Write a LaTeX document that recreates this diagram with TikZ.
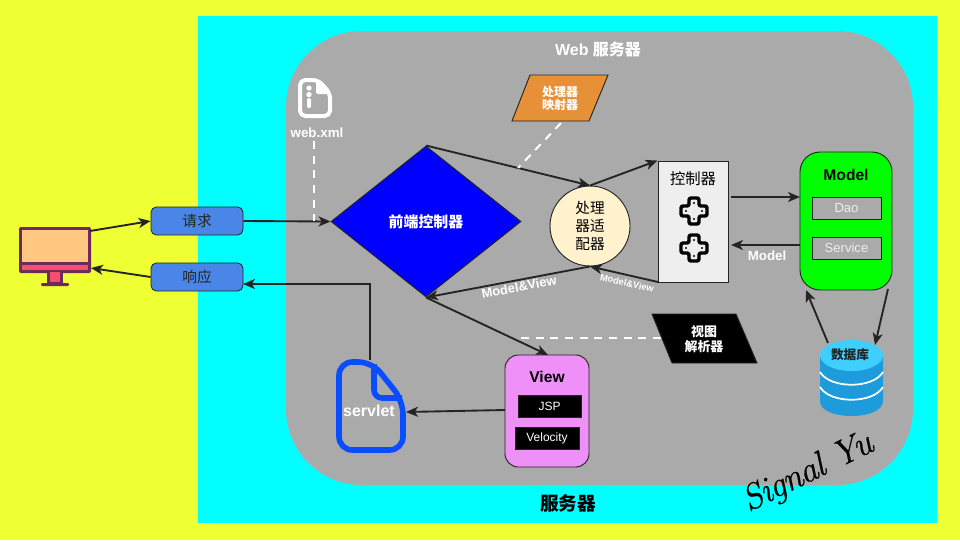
\documentclass[tikz,border=0pt]{standalone}
\usepackage{fontspec}
\setmainfont{Liberation Sans}
\newfontfamily\cjk{Noto Sans CJK SC}
\newfontfamily\sigfont[ItalicFeatures={FakeBold=0.5},LetterSpace=-3]{Latin Modern Roman}
\usetikzlibrary{arrows.meta,shapes.geometric,calc}
\definecolor{bgy}{HTML}{EEFF33}
\definecolor{bgc}{HTML}{00FFFF}
\definecolor{gr}{HTML}{AAAAAA}
\definecolor{ln}{HTML}{242424}
\definecolor{bluebox}{HTML}{4A86E8}
\definecolor{peach}{HTML}{FFC77F}
\definecolor{mon}{HTML}{6E2A5A}
\definecolor{monred}{HTML}{F4506E}
\definecolor{orangep}{HTML}{E69138}
\definecolor{cream}{HTML}{FFF2CC}
\definecolor{lite}{HTML}{EEEEEE}
\definecolor{vio}{HTML}{EE90F8}
\definecolor{sblue}{HTML}{0A4DFF}
\definecolor{dbtop}{HTML}{3FCFFF}
\definecolor{dbbody}{HTML}{1E9BDB}
\def\px{0.75pt}
\tikzset{
  tip/.style={-{Stealth[length=9pt,width=7.5pt,inset=2.5pt]}},
  conn/.style={draw=ln,line width=1.4pt,tip},
  wdash/.style={draw=white,line width=1.5pt,dash pattern=on 6pt off 5pt},
  reqbox/.style={draw=ln,fill=bluebox,rounded corners=4pt,line width=0.6pt,minimum width=92*\px,minimum height=28*\px,inner sep=0pt,font=\cjk\fontsize{11}{13}\selectfont,text=ln},
  subbox/.style={draw=ln,line width=0.7pt,inner sep=0pt,minimum height=22*\px,font=\fontsize{9}{11}\selectfont},
  wlabel/.style={text=white,font=\bfseries\fontsize{10}{12}\selectfont,inner sep=0pt},
}
\newcommand{\dpad}[2]{%
  \begin{scope}[shift={(#1,#2)}]
    \draw[black,line width=2.6pt,line join=round,fill=lite,rounded corners=1.5pt]
      (-5,-13)--(5,-13)--(5,-5)--(13,-5)--(13,5)--(5,5)--(5,13)--(-5,13)--(-5,5)--(-13,5)--(-13,-5)--(-5,-5)--cycle;
    \fill[black] (0,-8) circle (0.8pt) (0,8) circle (0.8pt) (-8,0) circle (0.8pt) (8,0) circle (0.8pt);
  \end{scope}}
\begin{document}
\begin{tikzpicture}[x=\px,y=-\px]
\useasboundingbox (0,0) rectangle (960,540);
\fill[bgy] (0,0) rectangle (960,540);
\fill[bgc] (198,16) rectangle (937,523);
\fill[gr,rounded corners=57pt] (286,31) rectangle (913,485);
\node[text=white,font=\bfseries\fontsize{12}{14}\selectfont,inner sep=0pt] (webtitle) at (598,49) {Web {\cjk\bfseries 服务器}};
\node[font=\cjk\bfseries\fontsize{14}{16}\selectfont,inner sep=0pt] (srvtitle) at (568,503) {服务器};

% monitor
\fill[mon,rounded corners=1.5pt] (19,227) rectangle (91,273);
\fill[peach] (22,230) rectangle (88,262);
\fill[monred] (22,265) rectangle (88,270);
\fill[mon] (47,272) rectangle (63,283);
\fill[monred] (50,272) rectangle (60,282);
\fill[mon,rounded corners=0.8pt] (41,283) rectangle (69,286);
\coordinate (monA) at (90,231);
\coordinate (monB) at (91,268);

\node[reqbox] (req) at (197,221) {请求};
\node[reqbox] (resp) at (197,277) {响应};

% web.xml icon
\draw[white,line width=3pt,rounded corners=4pt,line join=round,line cap=round]
  (300,100)--(300,80)--(318,80)--(330,93)--(330,116)--(300,116)--(300,100);
\fill[white,rounded corners=1.5pt] (316,80)--(330,94)--(316,94)--cycle;
\fill[white] (309,88) circle (2pt) (309,94.5) circle (2pt);
\fill[white,rounded corners=1pt] (307,98) rectangle (311,108);
\node[text=white,font=\bfseries\fontsize{10}{12}\selectfont,inner sep=0pt] (webxml) at (317,133) {web.xml};
\coordinate (wxA) at (314,141);
\coordinate (wxB) at (314,221);

% diamond
\node[diamond,aspect=1.258,draw=ln,line width=0.7pt,fill=blue,minimum width=190*\px,minimum height=151*\px,inner sep=0pt,text=white,font=\cjk\bfseries\fontsize{11.2}{13}\selectfont] (dia) at (426,221.5) {前端控制器};

% mapper
\draw[fill=orangep,draw=ln,line width=0.7pt] (530,75)--(608,75)--(589,121)--(512,121)--cycle;
\node[text=white,align=center,font=\cjk\bfseries\fontsize{9}{12}\selectfont,inner sep=0pt] (mapper) at (560,98.5) {处理器\\[-2pt]映射器};
\coordinate (mapA) at (561,123);
\coordinate (mapB) at (518,168);

% adapter
\node[circle,draw=ln,line width=0.7pt,fill=cream,minimum size=80*\px,inner sep=0pt,align=center,font=\cjk\fontsize{11}{15}\selectfont] (adapter) at (590,226) {处理\\[-1.5pt]器适\\[-1.5pt]配器};

% controller
\node[draw=ln,line width=0.7pt,fill=lite,minimum width=70*\px,minimum height=121*\px,inner sep=0pt] (ctrl) at (693,221.5) {};
\node[inner sep=0pt,font=\cjk\fontsize{11.5}{13}\selectfont] (ctrltxt) at (693,179) {控制器};
\dpad{694}{211}
\dpad{694}{248}
\coordinate (ctrlA) at (731,197);
\coordinate (ctrlB) at (731,245);
\coordinate (ctrlBL) at (658,282);

% model
\node[draw=ln,line width=0.7pt,fill=green,rounded corners=15pt,minimum width=92*\px,minimum height=138*\px,inner sep=0pt] (model) at (846,221) {};
\node[inner sep=0pt,font=\bfseries\fontsize{11.7}{13}\selectfont] (modeltxt) at (846,175) {Model};
\node[subbox,fill=gr,text=lite,minimum width=69*\px,font=\fontsize{9.8}{11}\selectfont] (dao) at (846.5,208) {Dao};
\node[subbox,fill=gr,text=lite,minimum width=69*\px,font=\fontsize{9.8}{11}\selectfont] (service) at (846.5,248) {Service};
\coordinate (mA) at (800,197);
\coordinate (mB) at (800,245);
\coordinate (mC) at (806,290);
\coordinate (mD) at (888,289);
\node[wlabel] (modellbl) at (767,255.5) {Model};

% labels of return path
\node[wlabel,rotate=-13,font=\bfseries\fontsize{7}{8}\selectfont] (mv1) at (627,283) {Model\&View};
\node[wlabel,rotate=11,font=\bfseries\fontsize{9.7}{10}\selectfont] (mv2) at (519,287) {Model\&View};

% view
\node[draw=ln,line width=0.7pt,fill=vio,rounded corners=10pt,minimum width=84*\px,minimum height=112*\px,inner sep=0pt] (view) at (547,411) {};
\node[inner sep=0pt,font=\bfseries\fontsize{11.7}{13}\selectfont] (viewtxt) at (547,377) {View};
\node[subbox,fill=black,text=white,minimum width=63*\px] (jsp) at (549.5,406) {JSP};
\node[subbox,fill=black,text=white,minimum width=64*\px] (vel) at (547,438) {Velocity};
\coordinate (vA) at (505,410);
\coordinate (vB) at (548,355);

% resolver
\draw[fill=black,draw=ln,line width=0.7pt] (652,314)--(736,314)--(757,363)--(672,363)--cycle;
\node[text=white,align=center,font=\cjk\bfseries\fontsize{9.7}{13}\selectfont,inner sep=0pt] (resolver) at (704,339) {视图\\[-2pt]解析器};
\coordinate (rA) at (661,338);
\coordinate (rB) at (516,338);

% servlet
\draw[sblue,line width=4.2pt,line join=round,line cap=round,rounded corners=10pt]
  (339,405)--(339,362)--(372,362)--(403,401)--(403,450)--(339,450)--(339,405);
\draw[sblue,line width=4.2pt,line join=round,rounded corners=6pt] (374,364)--(374,398)--(402,398);
\node[wlabel,font=\bfseries\fontsize{12}{14}\selectfont] (servlet) at (369,410.5) {servlet};
\coordinate (sA) at (370,360);
\coordinate (sB) at (406,412);
\coordinate (sC) at (370,284);
\coordinate (sD) at (243,284);

% database
\fill[dbbody] (820,356) -- (820,401) .. controls (820,421) and (883,421) .. (883,401) -- (883,356) -- cycle;
\fill[dbtop] (851.5,355.5) ellipse[x radius=31.5,y radius=15.5];
\draw[white,line width=1.3pt] (820,372) .. controls (830,389) and (873,389) .. (883,372);
\draw[white,line width=1.3pt] (820,387) .. controls (830,404) and (873,404) .. (883,387);
\node[inner sep=0pt,font=\cjk\bfseries\fontsize{9.5}{12}\selectfont,text=ln] (db) at (850,355) {数据库};
\coordinate (dbA) at (828,343);
\coordinate (dbB) at (875,345);

% connectors
\draw[conn] (monA) -- (req.west);
\draw[conn] (resp.west) -- (monB);
\draw[conn] (req.east) -- (dia.west);
\draw[conn] (dia.north) -- (adapter.north);
\draw[conn] (adapter.north) -- (ctrl.north west);
\draw[conn] (ctrlA) -- (mA);
\draw[conn] (mB) -- (ctrlB);
\draw[conn] (ctrlBL) -- (adapter.south);
\draw[conn] (adapter.south) -- (dia.south);
\draw[conn] (dia.south) -- (vB);
\draw[conn] (vA) -- (sB);
\draw[conn] (sA) -- (sC) -- (sD);
\draw[conn] (dbA) -- (mC);
\draw[conn] (mD) -- (dbB);
\draw[wdash] (wxA) -- (wxB);
\draw[wdash] (mapA) -- (mapB);
\draw[wdash] (rA) -- (rB);

\node[rotate=26,inner sep=0pt,font=\sigfont\itshape\fontsize{27}{29}\selectfont] (sig) at (808,473) {Signal Yu};
\end{tikzpicture}
\end{document}
